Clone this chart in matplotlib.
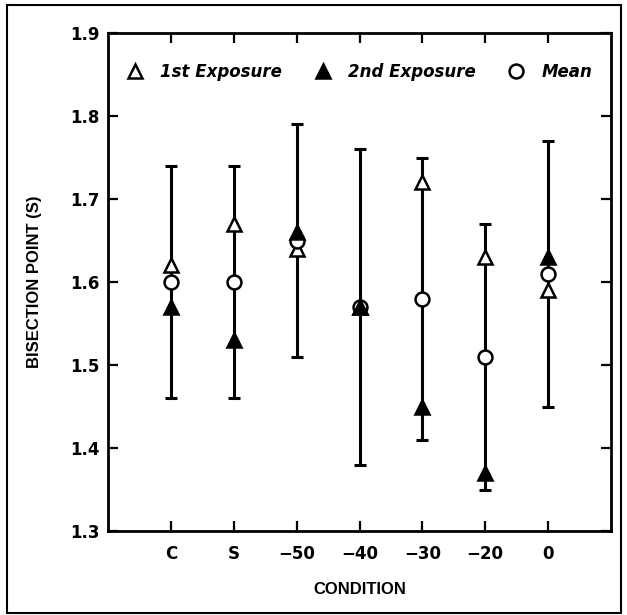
import matplotlib
matplotlib.use("Agg")
import matplotlib.pyplot as plt
from matplotlib.lines import Line2D
from matplotlib.patches import Rectangle

# Conditions and bisection-point results
conditions = ["C", "S", "\u221250", "\u221240", "\u221230", "\u221220", "0"]
first_exposure = [1.62, 1.67, 1.64, 1.57, 1.72, 1.63, 1.59]
second_exposure = [1.57, 1.53, 1.66, 1.57, 1.45, 1.37, 1.63]
mean_values = [1.60, 1.60, 1.65, 1.57, 1.58, 1.51, 1.61]
spread = [0.14, 0.14, 0.14, 0.19, 0.17, 0.16, 0.16]
y_ticks = [1.3, 1.4, 1.5, 1.6, 1.7, 1.8, 1.9]

W, H = 627, 615
fig = plt.figure(figsize=(W / 100, H / 100), dpi=100)
ax = fig.add_axes([108 / W, (H - 531) / H, 503 / W, 498 / H])

x = list(range(len(conditions)))
tick_font = dict(family="DejaVu Sans", weight="bold", size=12)
label_font = dict(family="Liberation Sans", weight="bold", size=12)

ax.errorbar(x, mean_values, yerr=spread, fmt="none", ecolor="black",
            elinewidth=2.2, capsize=4.3, capthick=2.2, zorder=2)

ms, mew = 10, 1.8
ax.plot(x, first_exposure, linestyle="none", marker="^", ms=ms, mew=mew,
        mfc="white", mec="black", zorder=3)
ax.plot(x, mean_values, linestyle="none", marker="o", ms=ms, mew=mew,
        mfc="white", mec="black", zorder=4)
ax.plot(x, second_exposure, linestyle="none", marker="^", ms=ms, mew=mew,
        mfc="black", mec="black", zorder=5)

ax.set_xlim(-1, 7)
ax.set_ylim(1.3, 1.9)
ax.set_xticks(x)
ax.set_xticklabels(conditions, fontdict=tick_font)
ax.set_yticks(y_ticks)
ax.set_yticklabels([f"{v:.1f}" for v in y_ticks], fontdict=tick_font)
ax.tick_params(axis="both", direction="in", length=7, width=1.6,
               top=True, right=True)
ax.tick_params(axis="x", pad=10)
ax.tick_params(axis="y", pad=6)
for s in ax.spines.values():
    s.set_linewidth(2)

ax.set_xlabel("CONDITION", fontdict=label_font, labelpad=14)
ax.set_ylabel("BISECTION POINT (S)", fontdict=label_font, labelpad=20)

handles = [
    Line2D([], [], linestyle="none", marker="^", ms=ms, mew=mew,
           mfc="white", mec="black"),
    Line2D([], [], linestyle="none", marker="^", ms=ms, mew=mew,
           mfc="black", mec="black"),
    Line2D([], [], linestyle="none", marker="o", ms=ms, mew=mew,
           mfc="white", mec="black"),
]
ax.legend(handles, ["1st Exposure", "2nd Exposure", "Mean"], ncol=3,
          loc="center left", bbox_to_anchor=(18.7 / 503, (531 - 72) / 498),
          frameon=False, borderpad=0, borderaxespad=0, handlelength=1.0,
          handletextpad=1.0, columnspacing=1.95,
          prop=dict(family="DejaVu Sans", weight="bold", style="oblique",
                    size=12))

# Frame around the whole figure
fig.patches.append(Rectangle((7 / W, (H - 613) / H), 614 / W, 608 / H,
                             transform=fig.transFigure, fill=False,
                             edgecolor="black", linewidth=1.5))

fig.savefig("out.png", dpi=100)
